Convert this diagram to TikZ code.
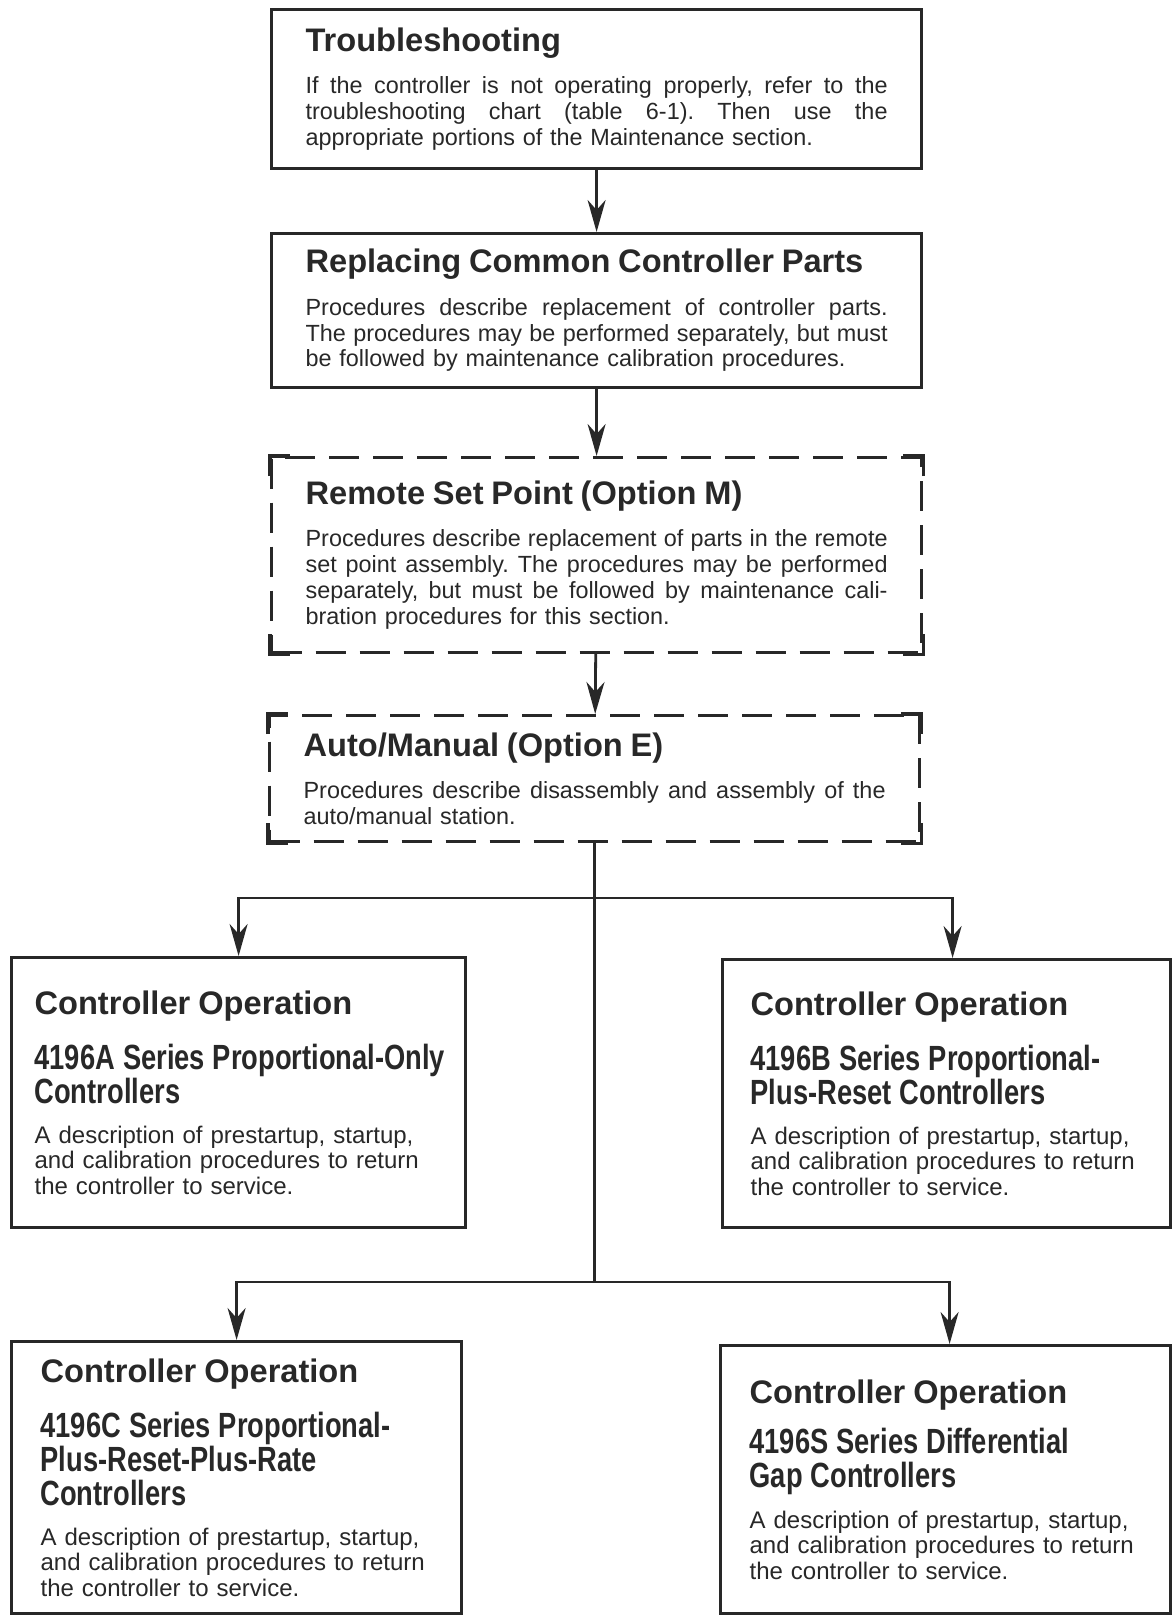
\documentclass[tikz,border=0pt]{standalone}
\usepackage{fontspec}
\setmainfont{Liberation Sans}
\newfontfamily\condfont[FakeStretch=0.78]{Liberation Sans Bold}
\usetikzlibrary{arrows.meta,positioning}
\definecolor{ink}{RGB}{40,40,40}
\newcommand{\boxhead}[1]{{\fontsize{16.3}{19}\selectfont\bfseries #1\par}}
\newcommand{\serieshead}[1]{{\condfont\fontsize{17.5}{17}\selectfont #1\par}}
\newcommand{\jline}[1]{{\frenchspacing\spaceskip=0.278em plus 1fil\hbox to \hsize{#1}}}

\begin{document}
\begin{tikzpicture}[x=0.5pt,y=-0.5pt,
    panel/.style={draw=ink, line width=1.6pt, rectangle, anchor=north west,
      align=left, inner sep=0pt, text=ink},
    optpanel/.style={panel, dash pattern=on 15pt off 7pt},
    topbody/.style={font=\fontsize{11.7}{12.9}\selectfont},
    lowbody/.style={font=\fontsize{12}{12.8}\selectfont},
    link/.style={draw=ink, line width=1.4pt},
    flow/.style={link, -{Stealth[length=16pt,width=9pt,inset=5pt]}}]
  \useasboundingbox (0,0) rectangle (1172,1615);
  \fill[white] (0,0) rectangle (1172,1615);
  % Main chain
  \node[panel, topbody, minimum width=325pt, minimum height=79.5pt, text width=291pt]
    (trouble) at (270,8) {\boxhead{Troubleshooting}\vspace{8.3pt}
    \jline{If the controller is not operating properly, refer to the}
    \jline{troubleshooting chart (table 6-1). Then use the}
    appropriate portions of the Maintenance section.};
  \node[panel, topbody, minimum width=325pt, minimum height=77pt, text width=291pt]
    (parts) at (270,232) {\boxhead{Replacing Common Controller Parts}\vspace{8.3pt}
    \jline{Procedures describe replacement of controller parts.}
    \jline{The procedures may be performed separately, but must}
    be followed by maintenance calibration procedures.};
  % Options (dashed)
  \node[optpanel, topbody, minimum width=325pt, minimum height=97.5pt, text width=291pt]
    (remote) at (270,456) {\boxhead{Remote Set Point (Option M)}\vspace{8.3pt}
    \jline{Procedures describe replacement of parts in the remote}
    \jline{set point assembly. The procedures may be performed}
    \jline{separately, but must be followed by maintenance cali-}
    bration procedures for this section.};
  \node[optpanel, topbody, minimum width=325pt, minimum height=63pt, text width=291pt]
    (automan) at (268,714) {\boxhead{Auto/Manual (Option E)}\vspace{8.3pt}
    \jline{Procedures describe disassembly and assembly of the}
    auto/manual station.};
  \foreach \b in {remote,automan}
    \foreach \c/\sx/\sy in {north west/1/-1, north east/-1/-1, south west/1/1, south east/-1/1}
      \draw[link, line width=1.6pt] ([yshift=\sy*10pt]\b.\c) -- (\b.\c) -- ([xshift=\sx*10pt]\b.\c);
  % Controller operation boxes
  \node[panel, lowbody, minimum width=227pt, minimum height=135pt, text width=204pt]
    (opA) at (10,956) {\boxhead{Controller Operation}\vspace{10.6pt}
    \serieshead{\mbox{4196A Series Proportional-Only}\newline Controllers}\vspace{7.2pt}
    A description of prestartup, startup,\newline
    and calibration procedures to return\newline
    the controller to service.};
  \node[panel, lowbody, minimum width=224pt, minimum height=134pt, text width=196pt]
    (opB) at (721,958) {\boxhead{Controller Operation}\vspace{10.6pt}
    \serieshead{4196B Series Proportional-\newline Plus-Reset Controllers}\vspace{7.2pt}
    A description of prestartup, startup,\newline
    and calibration procedures to return\newline
    the controller to service.};
  \node[panel, lowbody, minimum width=225pt, minimum height=136pt, text width=196pt]
    (opC) at (10,1340) {\boxhead{Controller Operation}\vspace{10.6pt}
    \serieshead{4196C Series Proportional-\newline Plus-Reset-Plus-Rate\newline Controllers}\vspace{7.2pt}
    A description of prestartup, startup,\newline
    and calibration procedures to return\newline
    the controller to service.};
  \node[panel, lowbody, minimum width=225pt, minimum height=134pt, text width=196pt]
    (opS) at (719,1344) {\boxhead{Controller Operation}\vspace{8pt}
    \serieshead{4196S Series Differential\newline Gap Controllers}\vspace{7.7pt}
    A description of prestartup, startup,\newline
    and calibration procedures to return\newline
    the controller to service.};
  % Connectors
  \draw[flow] (trouble) -- (parts);
  \draw[flow] (parts) -- (remote);
  \draw[flow] (remote) -- (automan);
  \coordinate (fork1) at (automan.south |- 0,898);
  \coordinate (fork2) at (automan.south |- 0,1282);
  \draw[link] (automan.south) -- (fork2);
  \draw[flow] (fork1) -| (opA.north);
  \draw[flow] (fork1) -| ([xshift=3pt]opB.north);
  \draw[flow] (fork2) -| (opC.north);
  \draw[flow] (fork2) -| ([xshift=2pt]opS.north);
\end{tikzpicture}
\end{document}
